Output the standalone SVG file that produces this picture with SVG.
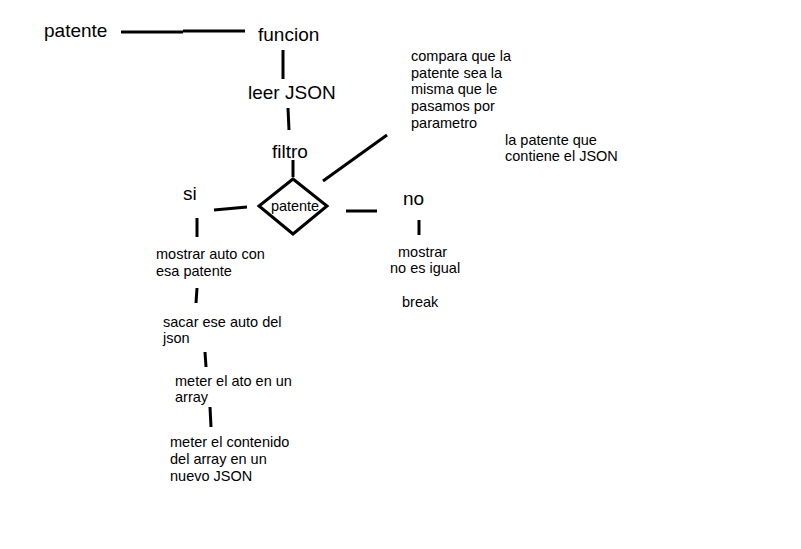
<svg xmlns="http://www.w3.org/2000/svg" width="801" height="549" viewBox="0 0 801 549">
<style>
.big{font-family:"Liberation Sans",Arial,sans-serif;font-size:19px;fill:#000}
.sm{font-family:"Liberation Sans",Arial,sans-serif;font-size:14.5px;fill:#000}
.ln{stroke:#000;stroke-width:3;fill:none;stroke-linecap:butt}
</style>
<rect width="801" height="549" fill="#fff"/>
<g id="connectors" class="ln">
<path d="M121 32H183"/>
<path d="M183 31H245"/>
<path d="M283 50V79"/>
<path d="M288 108L289 130"/>
<path d="M293 160V177"/>
<path d="M323 181L387 135"/>
<path d="M214 210L247 207"/>
<path d="M197 218V237"/>
<path d="M346 211H377"/>
<path d="M419 220V235"/>
<path d="M197 288L196 303"/>
<path d="M205 352L206 367"/>
<path d="M210 407L211 427"/>
</g>
<g id="n-patente"><text class="big" x="44" y="37">patente</text></g>
<g id="n-funcion"><text class="big" x="258" y="41">funcion</text></g>
<g id="n-leer"><text class="big" x="248" y="99">leer JSON</text></g>
<g id="n-filtro"><text class="big" x="272" y="158">filtro</text></g>
<g id="n-diamond">
<polygon points="293,179 259,206 293,234 327,206" fill="none" stroke="#000" stroke-width="3"/>
<text class="sm" x="271" y="211" font-size="13" textLength="48">patente</text>
</g>
<g id="n-si"><text class="big" x="183" y="200">si</text></g>
<g id="n-no"><text class="big" x="403" y="205">no</text></g>
<g id="n-compara"><text class="sm" x="411"><tspan x="411" y="61">compara que la</tspan><tspan x="411" y="78">patente sea la</tspan><tspan x="411" y="94">misma que le</tspan><tspan x="411" y="111">pasamos por</tspan><tspan x="411" y="128">parametro</tspan></text></g>
<g id="n-contiene"><text class="sm"><tspan x="505" y="145">la patente que</tspan><tspan x="505" y="161">contiene el JSON</tspan></text></g>
<g id="n-mostrar-no"><text class="sm"><tspan x="398" y="257">mostrar</tspan><tspan x="390" y="273">no es igual</tspan></text></g>
<g id="n-break"><text class="sm" x="402" y="307">break</text></g>
<g id="n-mostrar-auto"><text class="sm"><tspan x="156" y="259">mostrar auto con</tspan><tspan x="156" y="276">esa patente</tspan></text></g>
<g id="n-sacar"><text class="sm"><tspan x="163" y="327">sacar ese auto del</tspan><tspan x="163" y="343">json</tspan></text></g>
<g id="n-meter-ato"><text class="sm"><tspan x="175" y="386">meter el ato en un</tspan><tspan x="175" y="402">array</tspan></text></g>
<g id="n-meter-contenido"><text class="sm"><tspan x="170" y="447">meter el contenido</tspan><tspan x="170" y="464">del array en un</tspan><tspan x="170" y="481">nuevo JSON</tspan></text></g>
</svg>
